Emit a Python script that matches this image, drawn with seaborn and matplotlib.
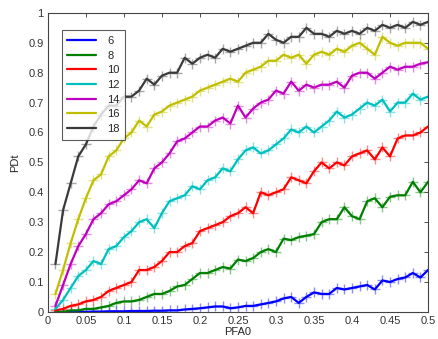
import numpy as np
import pandas as pd
import matplotlib
matplotlib.use("Agg")
import matplotlib.pyplot as plt
import seaborn as sns

# False-alarm probability grid
pfa = [round(0.01 * i, 2) for i in range(1, 51)]

pd_6 = [0.0, 0.0, 0.0, 0.0, 0.0, 0.001, 0.001, 0.002, 0.002, 0.002,
        0.003, 0.003, 0.003, 0.004, 0.004, 0.005, 0.005, 0.008, 0.010, 0.012,
        0.015, 0.018, 0.018, 0.012, 0.015, 0.020, 0.020, 0.025, 0.030, 0.035,
        0.045, 0.050, 0.030, 0.050, 0.065, 0.060, 0.060, 0.080, 0.075, 0.080,
        0.085, 0.090, 0.075, 0.105, 0.100, 0.110, 0.115, 0.130, 0.115, 0.140]
pd_8 = [0.0, 0.0, 0.005, 0.005, 0.010, 0.010, 0.015, 0.020, 0.030, 0.035,
        0.035, 0.040, 0.050, 0.060, 0.060, 0.070, 0.085, 0.090, 0.110, 0.130,
        0.130, 0.140, 0.150, 0.145, 0.175, 0.170, 0.180, 0.200, 0.210, 0.200,
        0.245, 0.240, 0.250, 0.255, 0.260, 0.300, 0.310, 0.310, 0.350, 0.320,
        0.310, 0.370, 0.380, 0.350, 0.385, 0.390, 0.390, 0.435, 0.400, 0.435]
pd_10 = [0.005, 0.010, 0.020, 0.025, 0.035, 0.040, 0.050, 0.070, 0.080, 0.090,
         0.100, 0.140, 0.140, 0.150, 0.170, 0.200, 0.200, 0.220, 0.230, 0.270,
         0.280, 0.290, 0.300, 0.320, 0.330, 0.350, 0.330, 0.400, 0.390, 0.400,
         0.410, 0.450, 0.440, 0.430, 0.470, 0.500, 0.480, 0.500, 0.490, 0.520,
         0.530, 0.540, 0.510, 0.550, 0.520, 0.580, 0.590, 0.590, 0.600, 0.620]
pd_12 = [0.01, 0.04, 0.08, 0.12, 0.14, 0.17, 0.16, 0.21, 0.22, 0.25,
         0.27, 0.30, 0.31, 0.28, 0.33, 0.37, 0.38, 0.39, 0.42, 0.41,
         0.44, 0.45, 0.48, 0.47, 0.51, 0.54, 0.55, 0.53, 0.54, 0.56,
         0.58, 0.61, 0.60, 0.62, 0.60, 0.62, 0.64, 0.67, 0.65, 0.66,
         0.68, 0.70, 0.69, 0.71, 0.67, 0.70, 0.70, 0.73, 0.71, 0.72]
pd_14 = [0.02, 0.09, 0.16, 0.22, 0.26, 0.31, 0.33, 0.36, 0.37, 0.39,
         0.41, 0.44, 0.43, 0.48, 0.50, 0.53, 0.57, 0.58, 0.60, 0.62,
         0.62, 0.64, 0.65, 0.63, 0.69, 0.65, 0.68, 0.70, 0.71, 0.74,
         0.73, 0.77, 0.74, 0.76, 0.75, 0.76, 0.76, 0.77, 0.75, 0.79,
         0.80, 0.80, 0.78, 0.80, 0.82, 0.81, 0.82, 0.82, 0.83, 0.835]
pd_16 = [0.06, 0.14, 0.23, 0.31, 0.38, 0.44, 0.46, 0.52, 0.54, 0.58,
         0.60, 0.64, 0.62, 0.66, 0.67, 0.69, 0.70, 0.71, 0.72, 0.74,
         0.75, 0.76, 0.77, 0.78, 0.77, 0.80, 0.81, 0.82, 0.84, 0.84,
         0.86, 0.85, 0.86, 0.83, 0.86, 0.87, 0.86, 0.88, 0.87, 0.89,
         0.90, 0.88, 0.86, 0.92, 0.90, 0.89, 0.90, 0.90, 0.90, 0.88]
pd_18 = [0.16, 0.34, 0.43, 0.52, 0.56, 0.62, 0.66, 0.69, 0.69, 0.72,
         0.72, 0.74, 0.78, 0.76, 0.79, 0.80, 0.80, 0.85, 0.83, 0.85,
         0.86, 0.85, 0.88, 0.87, 0.88, 0.89, 0.90, 0.90, 0.93, 0.91,
         0.90, 0.92, 0.92, 0.95, 0.93, 0.93, 0.92, 0.94, 0.93, 0.94,
         0.93, 0.95, 0.94, 0.96, 0.95, 0.96, 0.95, 0.97, 0.96, 0.97]

snr_labels = ["6", "8", "10", "12", "14", "16", "18"]
series = [pd_6, pd_8, pd_10, pd_12, pd_14, pd_16, pd_18]
colors = ["#0000ff", "#007f00", "#ff0000", "#00bfbf", "#bf00bf", "#bfbf00", "#3a3a3a"]

df = pd.DataFrame({
    "PFA0": np.tile(pfa, len(series)),
    "PDt": np.concatenate(series),
    "snr": np.repeat(snr_labels, len(pfa)),
})

sns.set_style("white")
plt.rcParams["font.family"] = ["Liberation Sans", "DejaVu Sans"]

fig = plt.figure(figsize=(4.39, 3.39), dpi=100)
ax = fig.add_axes([0.109, 0.080, 0.866, 0.882])

palette = dict(zip(snr_labels, colors))

# '+' markers underneath the solid curves
for lab in snr_labels:
    sub = df[df["snr"] == lab]
    ax.plot(sub["PFA0"], sub["PDt"], linestyle="none", marker="+",
            markersize=7, markeredgewidth=1.0, color=palette[lab], alpha=0.45)

sns.lineplot(data=df, x="PFA0", y="PDt", hue="snr", hue_order=snr_labels,
             palette=palette, linewidth=1.6, ax=ax, legend=True)

ax.set_xlim(0, 0.5)
ax.set_ylim(0, 1)
ax.set_xticks([0, 0.05, 0.1, 0.15, 0.2, 0.25, 0.3, 0.35, 0.4, 0.45, 0.5])
ax.set_xticklabels(["0", "0.05", "0.1", "0.15", "0.2", "0.25", "0.3", "0.35", "0.4", "0.45", "0.5"])
ax.set_yticks([0, 0.1, 0.2, 0.3, 0.4, 0.5, 0.6, 0.7, 0.8, 0.9, 1])
ax.set_yticklabels(["0", "0.1", "0.2", "0.3", "0.4", "0.5", "0.6", "0.7", "0.8", "0.9", "1"])
ax.tick_params(direction="in", length=3, width=0.6, labelsize=8,
               top=True, right=True, colors="#333333", pad=3)
for sp in ax.spines.values():
    sp.set_visible(True)
    sp.set_color("#444444")
    sp.set_linewidth(0.8)

ax.set_xlabel("PFA0", fontsize=8, labelpad=1)
ax.set_ylabel("PDt", fontsize=8, labelpad=6)

leg = ax.legend(loc="upper left", bbox_to_anchor=(0.022, 0.96), fontsize=8,
                frameon=True, fancybox=False, edgecolor="#333333",
                handlelength=2.6, handletextpad=1.0, labelspacing=0.42,
                borderpad=0.5, title=None)
leg.get_frame().set_linewidth(0.8)
for line in leg.get_lines():
    line.set_linewidth(1.6)

fig.savefig("out.png", dpi=100, facecolor="white")
